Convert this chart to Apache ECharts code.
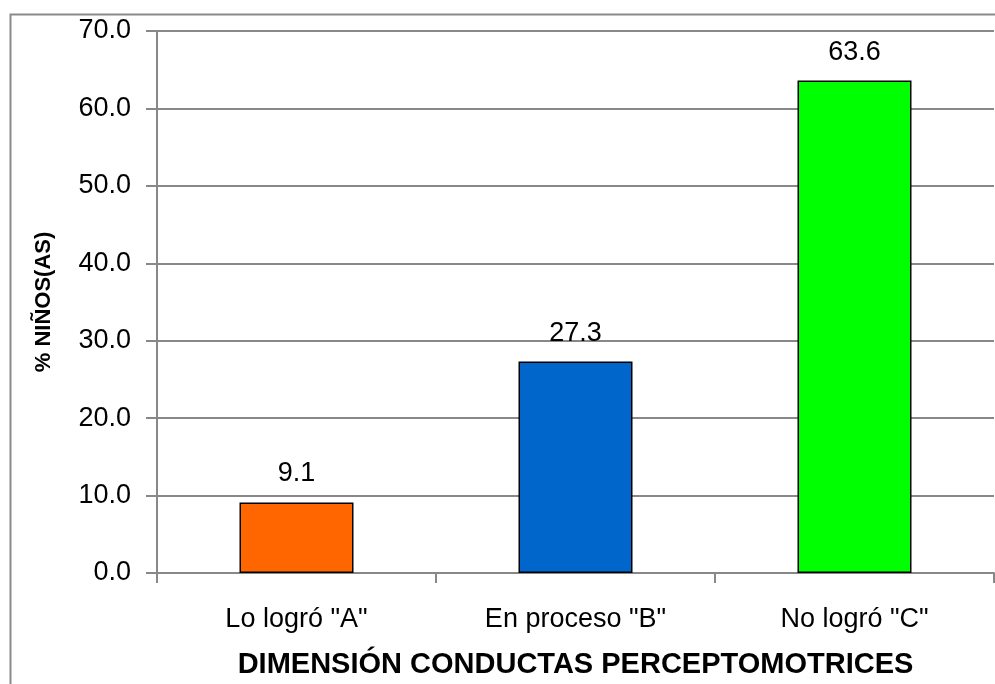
<!DOCTYPE html>
<html><head><meta charset="utf-8">
<script src="https://cdn.jsdelivr.net/npm/echarts@6/dist/echarts.min.js"></script>
<style>html,body{margin:0;padding:0;background:#fff}#c{width:995px;height:684px}</style>
</head><body><div id="c"></div>
<script>
const categories = ['Lo logró "A"', 'En proceso "B"', 'No logró "C"'];
const values = [9.1, 27.3, 63.6];
const barColors = ['#FF6600', '#0066CC', '#00FF00'];
const yTitle = '% NIÑOS(AS)';
const xTitle = 'DIMENSIÓN CONDUCTAS PERCEPTOMOTRICES';

const chart = echarts.init(document.getElementById('c'), null, {renderer: 'canvas'});
const font = 'Liberation Sans, Arial, sans-serif';
chart.setOption({
  animation: false,
  backgroundColor: '#fff',
  graphic: [{
    type: 'rect', left: 8, top: 12, shape: {width: 1100, height: 800},
    style: {fill: 'none', stroke: '#8a8a8a', lineWidth: 2}, z: 100, silent: true
  }],
  grid: {left: 157, right: 1, top: 31, bottom: 111, containLabel: false},
  xAxis: {
    type: 'category', data: categories,
    name: xTitle, nameLocation: 'middle', nameGap: 77,
    nameTextStyle: {fontFamily: font, fontSize: 29, fontWeight: 'bold', color: '#000'},
    axisLine: {lineStyle: {color: '#888', width: 2}},
    axisTick: {show: true, alignWithLabel: false, length: 10, lineStyle: {color: '#888', width: 2}},
    axisLabel: {fontFamily: font, fontSize: 27, color: '#000', margin: 33}
  },
  yAxis: {
    type: 'value', min: 0, max: 70, interval: 10,
    name: yTitle, nameLocation: 'middle', nameGap: 102, nameRotate: 90,
    nameTextStyle: {fontFamily: font, fontSize: 22, fontWeight: 'bold', color: '#000'},
    axisLine: {show: true, lineStyle: {color: '#888', width: 2}},
    axisTick: {show: true, inside: false, length: 11, lineStyle: {color: '#888', width: 2}},
    axisLabel: {fontFamily: font, fontSize: 27, color: '#000', margin: 26,
      formatter: v => v.toFixed(1)},
    splitLine: {show: true, lineStyle: {color: '#888', width: 2}}
  },
  series: [{
    type: 'bar', barWidth: 114,
    data: values.map((v, i) => ({value: v, itemStyle: {color: barColors[i]}})),
    itemStyle: {borderColor: '#000', borderWidth: 1.5},
    label: {show: true, position: 'top', distance: 15, fontFamily: font, fontSize: 27, color: '#000',
      formatter: p => p.value.toFixed(1)}
  }]
});
</script></body></html>
